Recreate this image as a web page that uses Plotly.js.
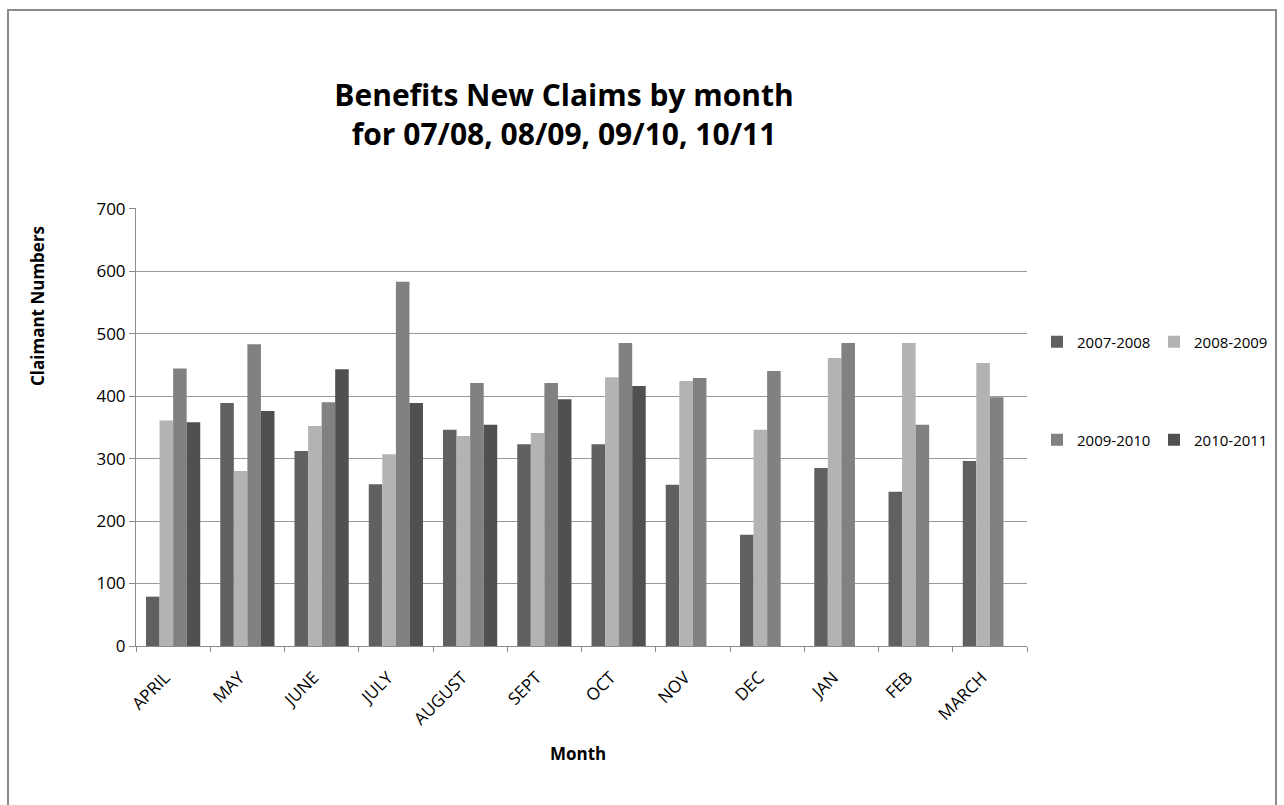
<!DOCTYPE html>
<html>
<head>
<meta charset="utf-8">
<script src="https://cdn.plot.ly/plotly-3.0.1.min.js"></script>
<style>
html,body{margin:0;padding:0;background:#fff;}
#chart{width:1284px;height:805px;}
</style>
</head>
<body>
<div id="chart"></div>
<script>
const months = ["APRIL","MAY","JUNE","JULY","AUGUST","SEPT","OCT","NOV","DEC","JAN","FEB","MARCH"];
const seriesNames = ["2007-2008","2008-2009","2009-2010","2010-2011"];
const claims0708 = [79, 389, 312, 259, 346, 323, 323, 258, 178, 285, 247, 296];
const claims0809 = [361, 280, 352, 307, 336, 341, 430, 424, 346, 461, 485, 453];
const claims0910 = [444, 483, 390, 583, 421, 421, 485, 429, 440, 485, 354, 398];
const claims1011 = [358, 376, 443, 389, 354, 395, 416, null, null, null, null, null];
const yTicks = [0, 100, 200, 300, 400, 500, 600, 700];

const colors = ["#606060", "#b3b3b3", "#818181", "#505050"];
const legendIds = ["legend", "legend2", "legend3", "legend4"];
const allValues = [claims0708, claims0809, claims0910, claims1011];

const traces = allValues.map((vals, i) => ({
  type: "bar",
  name: seriesNames[i],
  x: months,
  y: vals,
  marker: {color: colors[i], line: {width: 0}},
  legend: legendIds[i],
  hoverinfo: "x+y+name"
}));

// plot area in pixels: left 136, right 1027, top 208, bottom 646
const L = 136, R = 1027, T = 208, B = 646;
const px = v => (v - L) / (R - L);
const py = v => (B - v) / (B - T);

const font = "Open Sans, Noto Sans, sans-serif";

function legendAt(xPix, yPix) {
  return {
    orientation: "v",
    x: px(xPix), xanchor: "left",
    y: py(yPix), yanchor: "middle",
    font: {family: font, size: 15, color: "#000"},
    bgcolor: "rgba(0,0,0,0)",
    itemwidth: 30
  };
}

const layout = {
  width: 1284,
  height: 805,
  margin: {l: L, r: 1284 - R, t: T, b: 805 - B, pad: 0, autoexpand: false},
  paper_bgcolor: "#ffffff",
  plot_bgcolor: "#ffffff",
  barmode: "group",
  bargap: 0.27,
  bargroupgap: 0,
  font: {family: font, size: 13, color: "#000"},
  showlegend: true,
  title: {
    text: "<b>Benefits New Claims by month<br>for 07/08, 08/09, 09/10, 10/11</b>",
    font: {family: font, size: 30, color: "#000"},
    x: 564 / 1284,
    xanchor: "center",
    y: 1 - 106 / 805,
    yanchor: "middle"
  },
  xaxis: {
    type: "category",
    tickangle: -45,
    tickfont: {family: font, size: 17, color: "#000"},
    ticks: "outside",
    tickson: "boundaries",
    ticklen: 5,
    tickcolor: "#8c8c8c",
    ticklabelstandoff: 14,
    ticklabelshift: -8,
    showline: true,
    linecolor: "#8c8c8c",
    linewidth: 1,
    showgrid: false,
    automargin: false
  },
  yaxis: {
    range: [0, 701],
    tickvals: yTicks,
    ticktext: yTicks.map(String),
    tickfont: {family: font, size: 17, color: "#000"},
    ticks: "outside",
    ticklen: 6,
    tickcolor: "#8c8c8c",
    showline: true,
    linecolor: "#8c8c8c",
    linewidth: 1,
    showgrid: true,
    gridcolor: "#9a9a9a",
    gridwidth: 1,
    zeroline: false,
    automargin: false
  },
  legend: legendAt(1037, 342),
  legend2: legendAt(1154, 342),
  legend3: legendAt(1037, 440),
  legend4: legendAt(1154, 440),
  annotations: [
    {
      text: "<b>Claimant Numbers</b>",
      xref: "paper", yref: "paper",
      x: px(37), y: py(306),
      xanchor: "center", yanchor: "middle",
      textangle: -90,
      showarrow: false,
      font: {family: font, size: 17, color: "#000"}
    },
    {
      text: "<b>Month</b>",
      xref: "paper", yref: "paper",
      x: px(578), y: py(753),
      xanchor: "center", yanchor: "middle",
      showarrow: false,
      font: {family: font, size: 17, color: "#000"}
    }
  ],
  shapes: [{
    type: "rect",
    xref: "paper", yref: "paper",
    x0: px(8), x1: px(1276),
    y0: py(830), y1: py(10),
    line: {color: "#8a8a8a", width: 2},
    fillcolor: "rgba(0,0,0,0)",
    layer: "below"
  }]
};

Plotly.newPlot("chart", traces, layout, {displayModeBar: false, staticPlot: true});
</script>
</body>
</html>
